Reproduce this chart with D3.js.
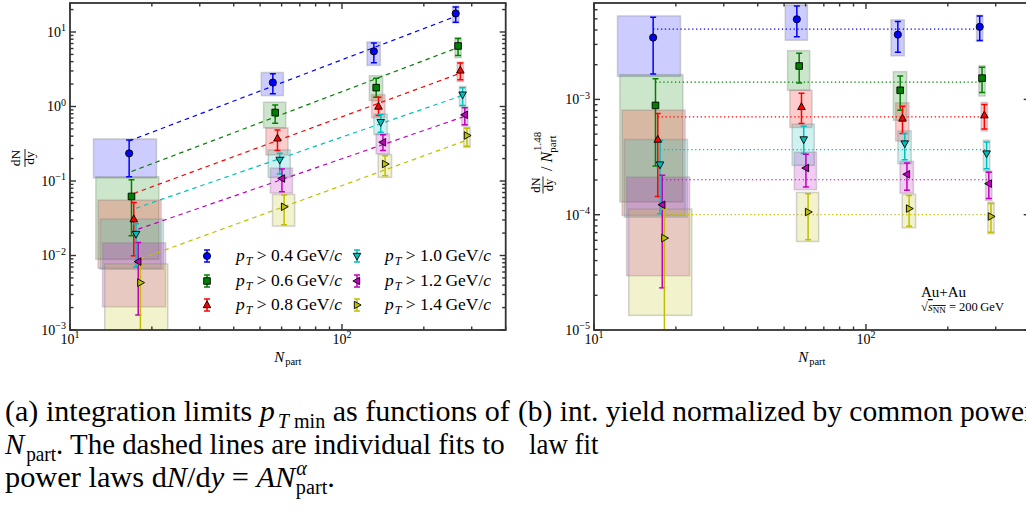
<!DOCTYPE html>
<html><head><meta charset="utf-8">
<script src="https://cdn.jsdelivr.net/npm/d3@7"></script>
<style>
body{margin:0;background:#fff;overflow:hidden}
svg{display:block}
text{font-family:"Liberation Serif","DejaVu Serif",serif;fill:#000}
</style>
</head><body><svg id="c" width="1026" height="514"></svg>
<script>
// ---------------- DATA ----------------
const ptCuts = ["0.4","0.6","0.8","1.0","1.2","1.4"];
const seriesColors = ["#0000ff","#008000","#ff0000","#00bfbf","#bf00bf","#bfbf00"];
const markerShapes = ["circle","square","triUp","triDown","triLeft","triRight"];
const npart = [16.5, 55.7, 131, 262];
const npartErr = [4.3, 5.2, 7.4, 7.0];
const seriesShift = [1.00, 1.02, 1.04, 1.06, 1.08, 1.10];

// (a) dN/dy
const yieldVal = [
  [0.235, 2.10, 5.50, 17.7],
  [0.062, 0.83, 1.79, 6.49],
  [0.0308, 0.374, 1.00, 3.05],
  [0.0194, 0.192, 0.615, 1.44],
  [0.00828, 0.108, 0.331, 0.773],
  [0.00432, 0.0451, 0.169, 0.408]
];
const yieldLo = [
  [0.114, 1.48, 3.87, 13.5],
  [0.0184, 0.596, 1.33, 4.85],
  [0.0099, 0.256, 0.757, 2.28],
  [0.00703, 0.124, 0.451, 1.03],
  [0.00159, 0.0718, 0.256, 0.567],
  [0.0003, 0.0258, 0.118, 0.292]
];
const yieldHi = [
  [0.356, 2.75, 7.1, 21.7],
  [0.104, 1.05, 2.40, 8.15],
  [0.0515, 0.485, 1.33, 3.83],
  [0.0266, 0.235, 0.78, 1.79],
  [0.0149, 0.145, 0.416, 0.962],
  [0.0077, 0.0649, 0.219, 0.51]
];
const yieldSysLo = [
  [0.11, 1.40, 3.56, 13.2],
  [0.0089, 0.516, 1.2, 4.52],
  [0.00674, 0.224, 0.705, 2.17],
  [0.00654, 0.112, 0.42, 1.0],
  [0.00205, 0.0689, 0.231, 0.55],
  [0.0002, 0.0248, 0.112, 0.283]
];
const yieldSysHi = [
  [0.367, 2.86, 7.35, 22.2],
  [0.114, 1.14, 2.59, 8.4],
  [0.0555, 0.516, 1.44, 3.95],
  [0.0308, 0.261, 0.79, 1.86],
  [0.0148, 0.149, 0.43, 0.978],
  [0.0077, 0.066, 0.226, 0.527]
];
// power-law fit values at first / last Npart of each series
const fitStart = [0.345, 0.134, 0.068, 0.0431, 0.0226, 0.0090];
const fitEnd = [16.2, 6.18, 2.80, 1.41, 0.738, 0.354];

// (b) dN/dy / Npart^1.48
const normVal = [
  [3.44e-3, 4.96e-3, 3.65e-3, 4.26e-3],
  [8.87e-4, 1.95e-3, 1.20e-3, 1.53e-3],
  [4.49e-4, 8.62e-4, 6.84e-4, 7.30e-4],
  [2.72e-4, 4.49e-4, 4.14e-4, 3.39e-4],
  [1.22e-4, 2.54e-4, 2.24e-4, 1.86e-4],
  [6.27e-5, 1.055e-4, 1.13e-4, 9.66e-5]
];
const normLo = [
  [1.66e-3, 3.50e-3, 2.56e-3, 3.24e-3],
  [2.65e-4, 1.39e-3, 8.07e-4, 1.15e-3],
  [1.44e-4, 6.18e-4, 5.06e-4, 5.55e-4],
  [1.02e-4, 3.39e-4, 3.00e-4, 2.51e-4],
  [2.32e-5, 1.74e-4, 1.63e-4, 1.38e-4],
  [3e-6, 6.07e-5, 7.96e-5, 7.06e-5]
];
const normHi = [
  [5.16e-3, 6.47e-3, 4.73e-3, 5.30e-3],
  [1.51e-3, 2.51e-3, 1.60e-3, 1.90e-3],
  [7.55e-4, 1.13e-3, 8.74e-4, 9.05e-4],
  [4.43e-4, 5.86e-4, 5.06e-4, 4.28e-4],
  [2.20e-4, 3.34e-4, 2.81e-4, 2.34e-4],
  [1.12e-4, 1.52e-4, 1.47e-4, 1.25e-4]
];
const normSysLo = [
  [1.585e-3, 3.26e-3, 2.39e-3, 3.19e-3],
  [1.29e-4, 1.20e-3, 6.60e-4, 1.07e-3],
  [9.86e-5, 5.71e-4, 4.36e-4, 5.33e-4],
  [9.53e-5, 2.68e-4, 2.77e-4, 2.39e-4],
  [2.96e-5, 1.65e-4, 1.54e-4, 1.33e-4],
  [1.34e-5, 5.86e-5, 7.70e-5, 6.85e-5]
];
const normSysHi = [
  [5.30e-3, 6.60e-3, 4.90e-3, 5.37e-3],
  [1.64e-3, 2.65e-3, 1.74e-3, 1.96e-3],
  [8.07e-4, 1.20e-3, 9.35e-4, 9.42e-4],
  [4.49e-4, 6.10e-4, 5.33e-4, 4.43e-4],
  [2.12e-4, 3.48e-4, 2.90e-4, 2.39e-4],
  [1.12e-4, 1.56e-4, 1.50e-4, 1.28e-4]
];
// common power-law fit level per series
const commonLevel = [4.07e-3, 1.41e-3, 7.06e-4, 3.67e-4, 2.01e-4, 1.0e-4];

// ---------------- DRAW ----------------
const svg = d3.select("#c");
const PT = 3, PB = 330;

function markerPath(shape, s) {
  const r = s;
  switch (shape) {
    case "circle": return d3.symbol(d3.symbolCircle, Math.PI * r * r)();
    case "square": return `M${-r},${-r}H${r}V${r}H${-r}Z`;
    case "triUp": return `M0,${-r*1.15}L${r*1.05},${r*0.75}L${-r*1.05},${r*0.75}Z`;
    case "triDown": return `M0,${r*1.15}L${r*1.05},${-r*0.75}L${-r*1.05},${-r*0.75}Z`;
    case "triLeft": return `M${-r*1.15},0L${r*0.75},${r*1.05}L${r*0.75},${-r*1.05}Z`;
    case "triRight": return `M${r*1.15},0L${-r*0.75},${r*1.05}L${-r*0.75},${-r*1.05}Z`;
  }
}
const markerSize = [3.6, 3.3, 3.6, 3.6, 3.6, 3.6];

function supLabel(sel, base, exp, fs) {
  sel.append("tspan").text(base);
  sel.append("tspan").attr("font-size", fs * 0.72).attr("dy", -fs * 0.42).text(exp);
}

function panel(cfg) {
  const x = d3.scaleLog().domain([10, 400]).range([cfg.x0, cfg.x1]);
  const y = d3.scaleLog().domain(cfg.ydom).range([PB, PT]);
  const g = svg.append("g");
  const cid = "clip" + cfg.id;
  svg.append("clipPath").attr("id", cid).append("rect")
    .attr("x", cfg.x0).attr("y", PT).attr("width", cfg.x1 - cfg.x0).attr("height", PB - PT);
  const data = g.append("g").attr("clip-path", `url(#${cid})`);

  // systematic boxes
  const boxes = data.append("g");
  ptCuts.forEach((p, i) => {
    npart.forEach((n, j) => {
      const xc = n * seriesShift[i];
      const ex = npartErr[j] * seriesShift[i];
      boxes.append("rect")
        .attr("x", x(xc - ex)).attr("width", x(xc + ex) - x(xc - ex))
        .attr("y", y(cfg.sysHi[i][j])).attr("height", y(cfg.sysLo[i][j]) - y(cfg.sysHi[i][j]))
        .attr("fill", seriesColors[i]).attr("fill-opacity", 0.2)
        .attr("stroke", "#888").attr("stroke-opacity", 0.35).attr("stroke-width", 1.5);
    });
  });
  // fit lines
  const line = d3.line().x(d => x(d[0])).y(d => y(d[1]));
  ptCuts.forEach((p, i) => {
    const n0 = npart[0] * seriesShift[i], n1 = npart[3] * seriesShift[i];
    const pts = cfg.fit === "dashed"
      ? [[n0, fitStart[i]], [n1, fitEnd[i]]]
      : [[n0, commonLevel[i]], [n1, commonLevel[i]]];
    data.append("path").attr("d", line(pts)).attr("fill", "none")
      .attr("stroke", seriesColors[i]).attr("stroke-width", 1.2)
      .attr("stroke-dasharray", cfg.fit === "dashed" ? "4.5,4" : "1.3,2.6");
  });
  // error bars + markers
  ptCuts.forEach((p, i) => {
    npart.forEach((n, j) => {
      const xc = x(n * seriesShift[i]);
      const yl = y(cfg.lo[i][j]), yh = y(cfg.hi[i][j]);
      const eb = data.append("g").attr("stroke", seriesColors[i]).attr("stroke-width", 1.5);
      eb.append("line").attr("x1", xc).attr("x2", xc).attr("y1", yl).attr("y2", yh);
      [yl, yh].forEach(yy => eb.append("line").attr("x1", xc - 3).attr("x2", xc + 3).attr("y1", yy).attr("y2", yy));
    });
  });
  ptCuts.forEach((p, i) => {
    npart.forEach((n, j) => {
      data.append("path").attr("d", markerPath(markerShapes[i], markerSize[i]))
        .attr("transform", `translate(${x(n * seriesShift[i])},${y(cfg.val[i][j])})`)
        .attr("fill", seriesColors[i]).attr("stroke", "#000").attr("stroke-width", 0.9);
    });
  });

  // axes frame + ticks
  const ax = g.append("g").attr("stroke", "#333").attr("stroke-width", 1.4);
  ax.append("rect").attr("x", cfg.x0).attr("y", PT).attr("width", cfg.x1 - cfg.x0).attr("height", PB - PT)
    .attr("fill", "none").attr("stroke-width", 1.8);
  const isMajor = t => Math.abs(Math.log10(t) - Math.round(Math.log10(t))) < 1e-6;
  x.ticks().forEach(t => {
    const L = isMajor(t) ? 6 : 3.5, xx = x(t);
    if (xx < cfg.x0 - 0.5 || xx > cfg.x1 + 0.5) return;
    ax.append("line").attr("x1", xx).attr("x2", xx).attr("y1", PB).attr("y2", PB - L);
    ax.append("line").attr("x1", xx).attr("x2", xx).attr("y1", PT).attr("y2", PT + L);
  });
  y.ticks().forEach(t => {
    const L = isMajor(t) ? 6 : 3.5, yy = y(t);
    if (yy < PT - 0.5 || yy > PB + 0.5) return;
    ax.append("line").attr("x1", cfg.x0).attr("x2", cfg.x0 + L).attr("y1", yy).attr("y2", yy);
    ax.append("line").attr("x1", cfg.x1).attr("x2", cfg.x1 - L).attr("y1", yy).attr("y2", yy);
  });
  // tick labels
  [[10, "1"], [100, "2"]].forEach(([t, e]) => {
    const tx = g.append("text").attr("x", x(t)).attr("y", 344).attr("text-anchor", "middle").attr("font-size", 14);
    supLabel(tx, "10", e, 14);
  });
  y.ticks().filter(isMajor).forEach(t => {
    const e = Math.round(Math.log10(t));
    const tx = g.append("text").attr("x", cfg.x0 - 4).attr("y", y(t) + 5).attr("text-anchor", "end").attr("font-size", 14);
    supLabel(tx, "10", e < 0 ? "\u2212" + (-e) : String(e), 14);
  });
  // x label
  const xl = g.append("text").attr("x", (cfg.x0 + cfg.x1) / 2).attr("y", 362).attr("text-anchor", "middle").attr("font-size", 15);
  xl.append("tspan").attr("font-style", "italic").text("N");
  xl.append("tspan").attr("font-size", 10.5).attr("dx", 1).attr("dy", 3).text("part");
  return { x, y, g };
}

const left = panel({ id: "a", x0: 70, x1: 505.7, ydom: [1e-3, 24.5], val: yieldVal, lo: yieldLo, hi: yieldHi,
  sysLo: yieldSysLo, sysHi: yieldSysHi, fit: "dashed" });
const right = panel({ id: "b", x0: 594, x1: 1029.7, ydom: [1e-5, 6.86e-3], val: normVal, lo: normLo, hi: normHi,
  sysLo: normSysLo, sysHi: normSysHi, fit: "dotted" });

// y labels
{
  const gl = svg.append("g").attr("transform", "translate(25,158) rotate(-90)");
  gl.append("text").attr("x", 0).attr("y", -5).attr("text-anchor", "middle").attr("font-size", 13.5).text("dN");
  gl.append("line").attr("x1", -9).attr("x2", 9).attr("stroke", "#000").attr("stroke-width", 0.9);
  gl.append("text").attr("x", 0).attr("y", 9).attr("text-anchor", "middle").attr("font-size", 13.5).text("dy");

  const gr = svg.append("g").attr("transform", "translate(552,165) rotate(-90)");
  gr.append("text").attr("x", -20).attr("y", -12).attr("text-anchor", "middle").attr("font-size", 12.5).text("dN");
  gr.append("line").attr("x1", -28.5).attr("x2", -11.5).attr("y1", -9).attr("y2", -9).attr("stroke", "#000").attr("stroke-width", 0.85);
  gr.append("text").attr("x", -20).attr("y", 1).attr("text-anchor", "middle").attr("font-size", 12.5).text("dy");
  const nt = gr.append("text").attr("x", -6).attr("y", 0).attr("font-size", 16);
  nt.append("tspan").text("/ ");
  nt.append("tspan").attr("font-style", "italic").text("N");
  nt.append("tspan").attr("font-size", 11).attr("dx", 1).attr("dy", -11).text("1.48");
  nt.append("tspan").attr("font-size", 11).attr("dx", -21).attr("dy", 15).text("part");
}

// legend
{
  const rows = [256, 281, 305], cols = [[207, 236], [357, 385]];
  ptCuts.forEach((p, i) => {
    const c = cols[Math.floor(i / 3)], yy = rows[i % 3];
    const lg = svg.append("g");
    const eb = lg.append("g").attr("stroke", seriesColors[i]).attr("stroke-width", 1.5);
    eb.append("line").attr("x1", c[0]).attr("x2", c[0]).attr("y1", yy - 6).attr("y2", yy + 6);
    [yy - 6, yy + 6].forEach(v => eb.append("line").attr("x1", c[0] - 3).attr("x2", c[0] + 3).attr("y1", v).attr("y2", v));
    lg.append("path").attr("d", markerPath(markerShapes[i], markerSize[i]))
      .attr("transform", `translate(${c[0]},${yy})`)
      .attr("fill", seriesColors[i]).attr("stroke", "#000").attr("stroke-width", 0.9);
    const t = lg.append("text").attr("x", c[1]).attr("y", yy + 5).attr("font-size", 17.5);
    t.append("tspan").attr("font-style", "italic").text("p");
    t.append("tspan").attr("font-style", "italic").attr("font-size", 12).attr("dx", 1).attr("dy", 4).text("T");
    t.append("tspan").attr("dy", -4).text(" > " + p + "\u2009GeV/");
    t.append("tspan").attr("font-style", "italic").text("c");
  });
}

// Au+Au annotation
{
  svg.append("text").attr("x", 921).attr("y", 297).attr("font-size", 15).text("Au+Au");
  const t = svg.append("text").attr("x", 921).attr("y", 311).attr("font-size", 12.5);
  t.append("tspan").text("\u221A");
  t.append("tspan").attr("font-style", "italic").attr("text-decoration", "overline").text("s");
  t.append("tspan").attr("font-size", 9).attr("dy", 2).attr("text-decoration", "overline").text("NN");
  t.append("tspan").attr("dy", -2).text(" = 200\u2009GeV");
}

// captions: each text drawn at natural size, then squeezed horizontally to its target width
{
  const fs = 30, sfs = 20;
  function capText(x, y, width, parts) {
    const g = svg.append("g");
    const t = g.append("text").attr("x", 0).attr("y", 0).attr("font-size", fs);
    parts.forEach(p => {
      const s = t.append("tspan").text(p.t);
      if (p.i) s.attr("font-style", "italic");
      if (p.fs) s.attr("font-size", p.fs);
      if (p.dy) s.attr("dy", p.dy);
      if (p.dx) s.attr("dx", p.dx);
    });
    const w = t.node().getBBox().width;
    g.attr("transform", `translate(${x},${y}) scale(${width / w},1)`);
  }
  capText(5, 421, 505, [
    { t: "(a) integration limits " }, { t: "p", i: true }, { t: "T", i: true, fs: sfs, dx: 3, dy: 7 },
    { t: "\u2009min", fs: sfs, dx: 1 }, { t: " as functions of", dy: -7 }
  ]);
  capText(518, 421, 516, [{ t: "(b) int. yield normalized by common power" }]);
  capText(5, 454, 501, [
    { t: "N", i: true }, { t: "part", fs: sfs, dx: 2, dy: 7 }, { t: ".  The dashed lines are individual fits to", dy: -7 }
  ]);
  capText(529, 454, 70, [{ t: "law fit" }]);
  capText(5, 487, 330, [
    { t: "power laws d" }, { t: "N", i: true }, { t: "/d" }, { t: "y", i: true }, { t: " = " },
    { t: "AN", i: true }, { t: "\u03B1", i: true, fs: sfs, dx: 1, dy: -12 }, { t: "part", fs: sfs, dx: -11, dy: 19 },
    { t: ".", dy: -7 }
  ]);
}
</script>
</body></html>
